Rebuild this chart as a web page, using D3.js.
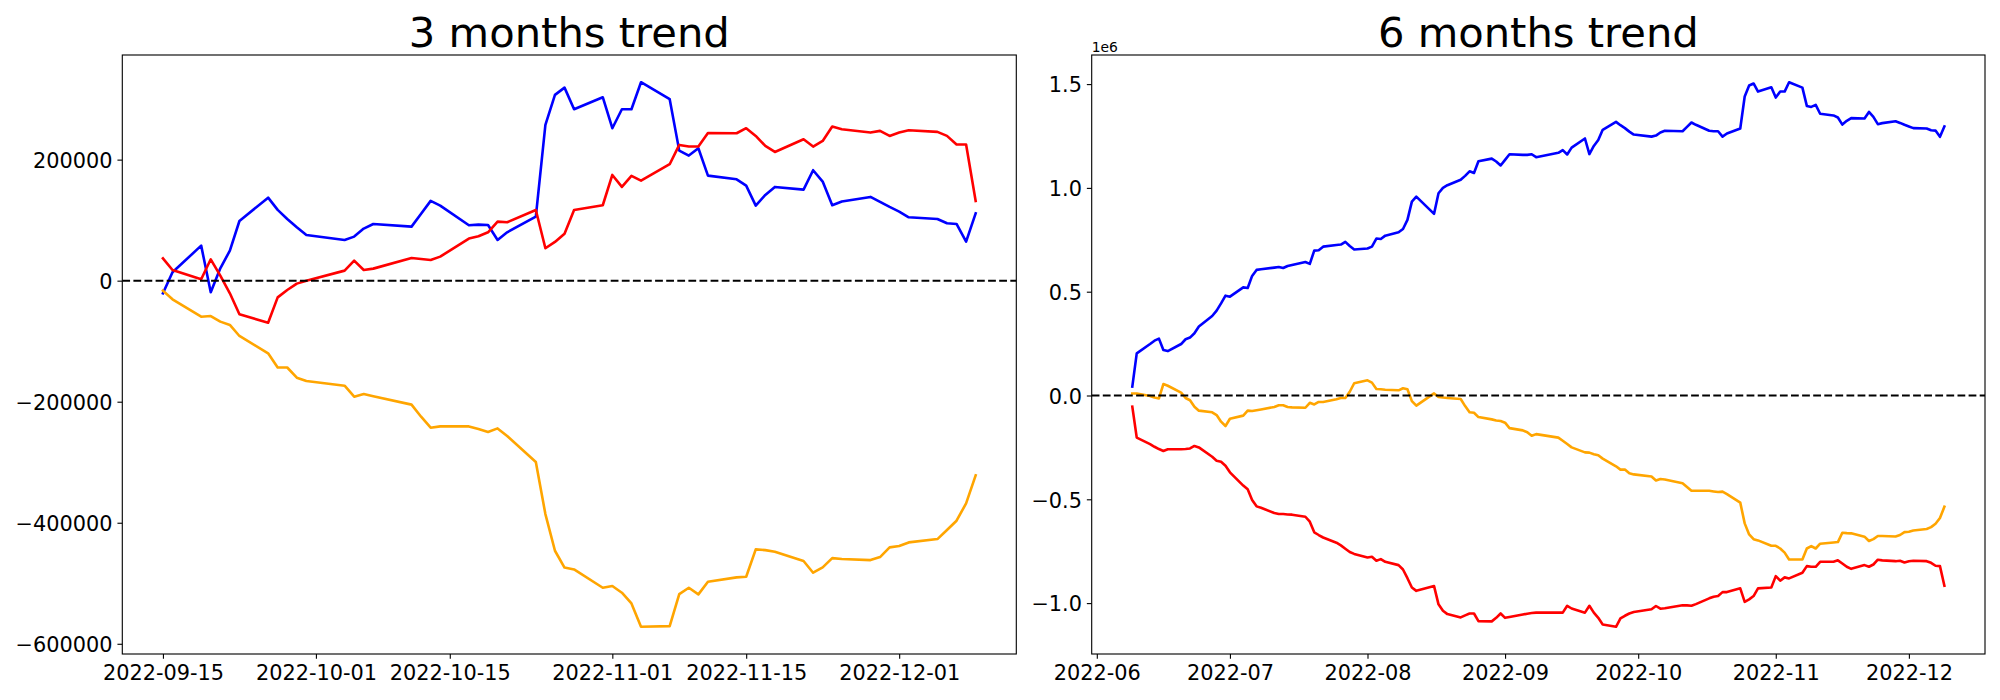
<!DOCTYPE html>
<html><head><meta charset="utf-8">
<script src="https://cdn.jsdelivr.net/npm/d3@7"></script>
<style>
body{margin:0;background:#fff}
svg{display:block}
text{font-family:"DejaVu Sans",sans-serif;fill:#000}
</style>
</head><body>
<svg id="chart" width="2000" height="700"></svg>
<script>
// ---------------- 3 months trend ----------------
const dates3m = ["2022-09-15","2022-09-16","2022-09-19","2022-09-20","2022-09-21","2022-09-22","2022-09-23","2022-09-26","2022-09-27","2022-09-28","2022-09-29","2022-09-30",
"2022-10-04","2022-10-05","2022-10-06","2022-10-07","2022-10-11","2022-10-12","2022-10-13","2022-10-14","2022-10-17","2022-10-18","2022-10-19","2022-10-20","2022-10-21","2022-10-24","2022-10-25","2022-10-26","2022-10-27","2022-10-28","2022-10-31",
"2022-11-01","2022-11-02","2022-11-03","2022-11-04","2022-11-07","2022-11-08","2022-11-09","2022-11-10","2022-11-11","2022-11-14","2022-11-15","2022-11-16","2022-11-17","2022-11-18","2022-11-21","2022-11-22","2022-11-23","2022-11-24","2022-11-25","2022-11-28","2022-11-29","2022-11-30",
"2022-12-01","2022-12-02","2022-12-05","2022-12-06","2022-12-07","2022-12-08","2022-12-09"];

const blue3m = [-20900,13800,57900,-19200,20400,49600,98600,137200,116900,102000,88200,75500,
67300,72800,86000,93700,89300,110700,131800,124100,91500,92600,92000,67300,79900,105800,257300,307000,319000,283300,303100,
251900,283300,283300,327900,299800,214900,206700,218800,173600,167500,157100,124000,141700,154900,150500,182500,163700,124600,130700,138400,130100,121800,
114100,104700,101900,94800,93700,64500,111300];

const red3m = [36900,17700,2300,35300,8300,-20900,-55600,-69400,-27600,-15400,-4900,0,
16600,33100,17700,19900,37500,35800,34200,39700,69500,73300,79900,97600,96500,116800,53500,64000,77700,116900,124600,
174700,154900,173100,165400,192400,224300,221600,221600,244100,243600,251900,239200,222600,212700,233600,221600,230900,254600,250200,244700,247500,239200,
244700,248500,245800,239200,224900,224900,131700];

const orange3m = [-16500,-30800,-59500,-58400,-67700,-73200,-91400,-120100,-143500,-143500,-160300,-165800,
-173500,-191700,-187300,-190900,-204800,-224800,-243000,-240800,-240800,-245200,-250100,-244100,-256700,-299700,-385700,-446300,-474000,-477100,-507400,
-504600,-515600,-533300,-571900,-570800,-517900,-507400,-518400,-497500,-490300,-489200,-444000,-445200,-447900,-463300,-482600,-473800,-458400,-460000,-461700,-456700,-440700,
-438500,-432500,-427000,-412100,-396700,-368000,-321700];

const xTicks3m = ["2022-09-15","2022-10-01","2022-10-15","2022-11-01","2022-11-15","2022-12-01"];
const yTicks3m = [-600000,-400000,-200000,0,200000];
const yTickLabels3m = ["\u2212600000","\u2212400000","\u2212200000","0","200000"];

// ---------------- 6 months trend (values in units of 1e6) ----------------
const dates6m = ["2022-06-09","2022-06-10","2022-06-13","2022-06-14","2022-06-15","2022-06-16","2022-06-17","2022-06-20","2022-06-21","2022-06-22","2022-06-23","2022-06-24","2022-06-27","2022-06-28","2022-06-29","2022-06-30",
"2022-07-01","2022-07-04","2022-07-05","2022-07-06","2022-07-07","2022-07-08","2022-07-11","2022-07-12","2022-07-13","2022-07-14","2022-07-15","2022-07-18","2022-07-19","2022-07-20","2022-07-21","2022-07-22","2022-07-25","2022-07-26","2022-07-27","2022-07-28","2022-07-29",
"2022-08-01","2022-08-02","2022-08-03","2022-08-04","2022-08-05","2022-08-08","2022-08-09","2022-08-10","2022-08-11","2022-08-12","2022-08-16","2022-08-17","2022-08-18","2022-08-19","2022-08-22","2022-08-23","2022-08-24","2022-08-25","2022-08-26","2022-08-29","2022-08-30","2022-08-31",
"2022-09-01","2022-09-02","2022-09-05","2022-09-06","2022-09-07","2022-09-08","2022-09-13","2022-09-14","2022-09-15","2022-09-16","2022-09-19","2022-09-20","2022-09-21","2022-09-22","2022-09-23","2022-09-26","2022-09-27","2022-09-28","2022-09-29","2022-09-30",
"2022-10-04","2022-10-05","2022-10-06","2022-10-07","2022-10-11","2022-10-12","2022-10-13","2022-10-14","2022-10-17","2022-10-18","2022-10-19","2022-10-20","2022-10-21","2022-10-24","2022-10-25","2022-10-26","2022-10-27","2022-10-28","2022-10-31",
"2022-11-01","2022-11-02","2022-11-03","2022-11-04","2022-11-07","2022-11-08","2022-11-09","2022-11-10","2022-11-11","2022-11-14","2022-11-15","2022-11-16","2022-11-17","2022-11-18","2022-11-21","2022-11-22","2022-11-23","2022-11-24","2022-11-25","2022-11-28","2022-11-29","2022-11-30",
"2022-12-01","2022-12-02","2022-12-05","2022-12-06","2022-12-07","2022-12-08","2022-12-09"];

const blue6m = [0.043,0.203,0.248,0.264,0.274,0.219,0.214,0.248,0.271,0.279,0.300,0.332,0.383,0.409,0.444,0.481,
0.476,0.521,0.518,0.576,0.605,0.608,0.616,0.619,0.614,0.624,0.629,0.643,0.634,0.698,0.700,0.717,0.725,0.727,0.740,0.720,0.703,
0.708,0.717,0.756,0.754,0.770,0.786,0.802,0.846,0.934,0.958,0.875,0.974,1.000,1.013,1.039,1.058,1.080,1.072,1.128,1.141,1.127,1.108,
1.135,1.162,1.159,1.159,1.162,1.148,1.169,1.182,1.161,1.194,1.238,1.163,1.202,1.231,1.280,1.318,1.302,1.288,1.271,1.257,
1.247,1.252,1.267,1.275,1.273,1.294,1.315,1.304,1.275,1.273,1.273,1.247,1.262,1.286,1.440,1.493,1.503,1.464,1.485,
1.435,1.464,1.464,1.509,1.483,1.395,1.390,1.400,1.357,1.349,1.339,1.305,1.323,1.336,1.334,1.366,1.342,1.307,1.312,1.321,1.313,1.304,
1.296,1.288,1.286,1.278,1.276,1.246,1.296];

const red6m = [-0.054,-0.203,-0.234,-0.247,-0.258,-0.267,-0.259,-0.259,-0.258,-0.255,-0.243,-0.250,-0.295,-0.314,-0.319,-0.338,
-0.370,-0.434,-0.452,-0.503,-0.534,-0.541,-0.566,-0.571,-0.571,-0.573,-0.574,-0.584,-0.608,-0.659,-0.672,-0.684,-0.709,-0.722,-0.738,-0.754,-0.763,
-0.780,-0.777,-0.796,-0.788,-0.801,-0.817,-0.838,-0.880,-0.925,-0.941,-0.918,-1.006,-1.037,-1.053,-1.069,-1.059,-1.050,-1.050,-1.087,-1.088,-1.071,-1.050,
-1.071,-1.067,-1.055,-1.051,-1.048,-1.046,-1.046,-1.046,-1.013,-1.026,-1.046,-1.013,-1.046,-1.071,-1.103,-1.114,-1.074,-1.061,-1.050,-1.043,
-1.030,-1.014,-1.027,-1.025,-1.010,-1.011,-1.013,-1.005,-0.977,-0.969,-0.966,-0.947,-0.947,-0.929,-0.994,-0.982,-0.966,-0.929,-0.925,
-0.870,-0.892,-0.876,-0.881,-0.854,-0.822,-0.825,-0.825,-0.801,-0.801,-0.794,-0.809,-0.825,-0.835,-0.817,-0.825,-0.814,-0.791,-0.794,-0.798,-0.796,-0.804,
-0.798,-0.796,-0.798,-0.806,-0.820,-0.822,-0.916];

const orange6m = [0.010,0.010,-0.002,-0.010,-0.014,0.055,0.047,0.014,-0.012,-0.023,-0.054,-0.073,-0.081,-0.094,-0.126,-0.147,
-0.112,-0.097,-0.073,-0.075,-0.071,-0.067,-0.055,-0.047,-0.047,-0.055,-0.057,-0.059,-0.035,-0.043,-0.031,-0.031,-0.018,-0.012,-0.012,0.018,0.059,
0.073,0.062,0.031,0.030,0.028,0.025,0.035,0.030,-0.027,-0.049,0.010,-0.007,-0.010,-0.012,-0.017,-0.051,-0.081,-0.083,-0.104,-0.115,-0.120,-0.123,
-0.131,-0.157,-0.168,-0.177,-0.194,-0.186,-0.203,-0.218,-0.234,-0.250,-0.274,-0.275,-0.283,-0.288,-0.304,-0.341,-0.357,-0.357,-0.375,-0.380,
-0.390,-0.409,-0.402,-0.405,-0.423,-0.441,-0.459,-0.459,-0.459,-0.462,-0.465,-0.463,-0.475,-0.516,-0.616,-0.669,-0.692,-0.698,-0.724,
-0.724,-0.737,-0.757,-0.790,-0.790,-0.737,-0.725,-0.737,-0.714,-0.708,-0.706,-0.661,-0.663,-0.664,-0.680,-0.701,-0.692,-0.677,-0.677,-0.679,-0.672,-0.658,
-0.656,-0.650,-0.643,-0.634,-0.618,-0.590,-0.536];

const xTicks6m = ["2022-06-01","2022-07-01","2022-08-01","2022-09-01","2022-10-01","2022-11-01","2022-12-01"];
const yTicks6m = [-1.0,-0.5,0.0,0.5,1.0,1.5];
const yTickLabels6m = ["\u22121.0","\u22120.5","0.0","0.5","1.0","1.5"];

const seriesColors = ["blue","red","orange"];
const titles = ["3 months trend","6 months trend"];

// ---------------- drawing ----------------
const svg = d3.select("#chart");
svg.append("rect").attr("width",2000).attr("height",700).attr("fill","#fff");
const parse = d3.utcParse("%Y-%m-%d");
const TICK = 4.86, PAD = 4.86, LW = 2.6, LW_DASH = 2.08;

function panel(o){
  const g = svg.append("g");
  const dates = o.dates.map(parse);
  const t0 = +dates[0], t1 = +dates[dates.length-1];
  const tp = (t1 - t0) * 0.05;
  const x = d3.scaleUtc().domain([new Date(t0 - tp), new Date(t1 + tp)]).range([o.x0, o.x1]);
  const all = o.series.flat();
  const lo = d3.min(all), hi = d3.max(all), vp = (hi - lo) * 0.05;
  const y = d3.scaleLinear().domain([lo - vp, hi + vp]).range([o.y1, o.y0]);

  const line = d3.line().x((d,i) => x(dates[i])).y(d => y(d));
  o.series.forEach((vals, k) => {
    g.append("path").datum(vals).attr("d", line)
      .attr("fill","none").attr("stroke", seriesColors[k]).attr("stroke-width", LW)
      .attr("stroke-linejoin","round").attr("stroke-linecap","square");
  });
  // zero reference line
  g.append("line").attr("x1", o.x0).attr("x2", o.x1).attr("y1", y(0)).attr("y2", y(0))
    .attr("stroke","#000").attr("stroke-width", LW_DASH).attr("stroke-dasharray","7.77,3.33");

  // x axis
  const xa = g.append("g").attr("transform", `translate(0,${o.y1})`)
    .call(d3.axisBottom(x).tickValues(o.xTicks.map(parse))
      .tickFormat((d,i) => o.xLabels[i]).tickSize(TICK).tickPadding(PAD).tickSizeOuter(0));
  xa.select(".domain").remove();
  xa.selectAll(".tick line").attr("stroke","#000").attr("stroke-width",1.11);
  xa.selectAll(".tick text").attr("font-size","20.83px").attr("font-family","DejaVu Sans").attr("dy","0.76em").attr("fill","#000");

  // y axis
  const ya = g.append("g").attr("transform", `translate(${o.x0},0)`)
    .call(d3.axisLeft(y).tickValues(o.yTicks)
      .tickFormat((d,i) => o.yLabels[i]).tickSize(TICK).tickPadding(PAD).tickSizeOuter(0));
  ya.select(".domain").remove();
  ya.selectAll(".tick line").attr("stroke","#000").attr("stroke-width",1.11);
  ya.selectAll(".tick text").attr("font-size","20.83px").attr("font-family","DejaVu Sans").attr("dy","0.37em").attr("fill","#000");

  // frame
  g.append("rect").attr("x", o.x0).attr("y", o.y0).attr("width", o.x1 - o.x0).attr("height", o.y1 - o.y0)
    .attr("fill","none").attr("stroke","#000").attr("stroke-width",1.11);

  // title
  g.append("text").attr("x", (o.x0 + o.x1)/2).attr("y", o.y0 - 8.33)
    .attr("text-anchor","middle").attr("font-size","41.67px").text(o.title);

  if (o.offsetText) {
    g.append("text").attr("x", o.x0).attr("y", o.y0 - 3.5)
      .attr("font-size","13.89px").text(o.offsetText);
  }
}

panel({x0:122.3, x1:1016.3, y0:55, y1:654, dates:dates3m, series:[blue3m, red3m, orange3m],
  xTicks:xTicks3m, xLabels:xTicks3m, yTicks:yTicks3m, yLabels:yTickLabels3m, title:titles[0]});
panel({x0:1091.7, x1:1985, y0:55, y1:654, dates:dates6m, series:[blue6m, red6m, orange6m],
  xTicks:xTicks6m, xLabels:xTicks6m.map(s => s.slice(0,7)), yTicks:yTicks6m, yLabels:yTickLabels6m,
  title:titles[1], offsetText:"1e6"});
</script>
</body></html>
